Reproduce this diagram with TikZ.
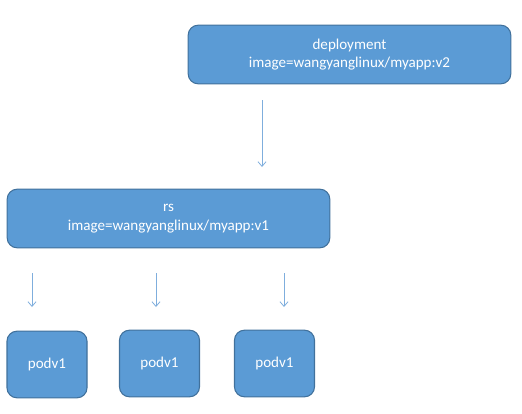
\documentclass[tikz,border=0pt]{standalone}
\usepackage{fontspec}
\setmainfont{Carlito}
\usetikzlibrary{arrows.meta}
\definecolor{boxfill}{HTML}{5B9BD5}
\definecolor{boxline}{HTML}{41719C}
\definecolor{arrowc}{HTML}{7FAEDD}
\begin{document}
\begin{tikzpicture}[x=0.75pt,y=-0.75pt,
  bluebox/.style={draw=boxline,line width=0.8pt,fill=boxfill,rounded corners=7.5pt,
    text=white,font=\fontsize{11.3pt}{14pt}\selectfont,align=center,inner sep=0pt},
  wide/.style={bluebox,minimum width=242pt,minimum height=44pt},
  podbox/.style={bluebox,minimum width=60pt,minimum height=50pt},
  link/.style={draw=arrowc,line width=0.6pt,-{Straight Barb[length=3.5pt,width=6pt]}}]
\useasboundingbox (0,0) rectangle (522,414);
\node[wide] (dep) at (349.5,54.5) {deployment\\image=wangyanglinux/myapp:v2};
\node[wide] (rs) at (168.5,218.5) {rs\\image=wangyanglinux/myapp:v1};
\node[podbox] (p1) at (47,364.5) {podv1};
\node[podbox] (p2) at (159.5,363.5) {podv1};
\node[podbox] (p3) at (274.5,363.5) {podv1};
\coordinate (a0s) at (262,100); \coordinate (a0e) at (262,167);
\coordinate (a1s) at (32,273); \coordinate (a1e) at (32,307);
\coordinate (a2s) at (156,273); \coordinate (a2e) at (156,307);
\coordinate (a3s) at (284,273); \coordinate (a3e) at (284,307);
\draw[link] (a0s) -- (a0e);
\draw[link] (a1s) -- (a1e);
\draw[link] (a2s) -- (a2e);
\draw[link] (a3s) -- (a3e);
\end{tikzpicture}
\end{document}
